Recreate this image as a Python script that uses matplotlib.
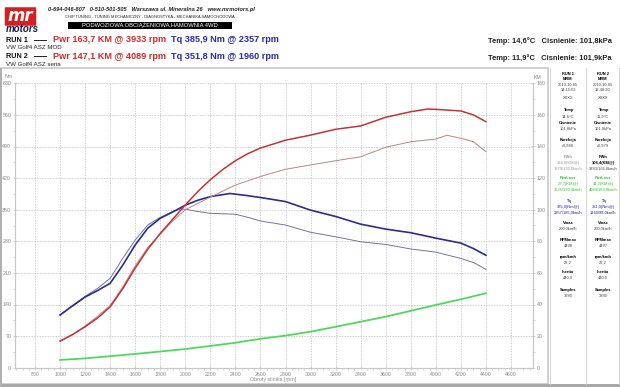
import matplotlib
matplotlib.use("Agg")
import matplotlib.pyplot as plt
from matplotlib.patches import Rectangle, FancyBboxPatch
from matplotlib.lines import Line2D
from matplotlib.ticker import MultipleLocator

plt.rcParams['font.family'] = ['Liberation Sans', 'DejaVu Sans']

# ---------------- data ----------------
rpm_tq1 = [1000, 1100, 1200, 1300, 1400, 1500, 1600, 1700, 1800, 1900, 2000, 2100, 2200, 2357,
           2500, 2600, 2800, 3000, 3200, 3400, 3600, 3800, 4000, 4200, 4300, 4400]
tq1 = [116.7, 137, 156.6, 171, 187, 227, 272, 309, 331, 345, 360, 371, 379, 385.9,
       381, 377, 368, 349, 335, 318, 307, 299, 287, 276, 264, 249]

rpm_tq2 = [1000, 1100, 1200, 1300, 1400, 1500, 1600, 1700, 1800, 1900, 1960, 2000, 2100, 2200,
           2400, 2500, 2600, 2800, 3000, 3200, 3400, 3600, 3800, 4000, 4200, 4300, 4400]
tq2 = [117, 138, 158, 176, 198, 242, 283, 316, 333, 346, 351.8, 351, 346, 342,
       340, 333, 325, 316, 300, 290, 279, 273, 263, 256, 242, 233, 218]

rpm_pw1 = [1000, 1100, 1200, 1300, 1400, 1500, 1600, 1700, 1800, 1900, 2000, 2100, 2200, 2300,
           2400, 2500, 2600, 2800, 3000, 3200, 3400, 3600, 3800, 3933, 4000, 4200, 4300, 4400]
pw1 = [16.9, 21, 25.9, 31.5, 38.5, 50, 63, 75, 85, 94, 103, 111.5, 119, 125.5,
       131, 135.5, 139, 144, 147.2, 150.9, 153, 158.5, 162, 163.7, 163.5, 162.5, 160, 155.7]

rpm_pw2 = [1000, 1100, 1200, 1300, 1400, 1500, 1600, 1700, 1800, 1900, 2000, 2100, 2200, 2400,
           2600, 2800, 3000, 3200, 3400, 3600, 3800, 4000, 4089, 4200, 4300, 4400]
pw2 = [16.5, 21, 26.5, 32.5, 39.5, 51, 64.5, 76, 84.5, 93, 100, 104, 108, 115.6,
       121, 125.6, 128.3, 131, 133.5, 139.5, 143, 144.7, 147.1, 145.2, 143, 136.7]

rpm_loss = [1000, 1200, 1600, 2000, 2400, 2600, 2800, 3000, 3200, 3400, 3600, 3800, 4000, 4200, 4400]
loss = [4.9, 5.9, 8.7, 11.8, 15.8, 18.3, 20.3, 22.8, 25.9, 29.1, 32.3, 36, 39.7, 43.3, 47.1]

x_ticks = list(range(800, 4601, 200))
nm_ticks = list(range(0, 631, 70))
km_ticks = list(range(0, 181, 20))

run_names = ["RUN 1", "RUN 2"]
run_desc = ["VW Golf4 ASZ MOD", "VW Golf4 ASZ seria"]
pwr_txt = ["Pwr 163,7 KM @ 3933 rpm", "Pwr 147,1 KM @ 4089 rpm"]
tq_txt = ["Tq 385,9 Nm @ 2357 rpm", "Tq 351,8 Nm @ 1960 rpm"]
env_txt = ["Temp: 14,6°C   Cisnienie: 101,8kPa", "Temp: 11,9°C   Cisnienie: 101,9kPa"]

info_col1 = [("RUN 1", 'k', True), ("MRM", 'k', True), ("2010-10-05", '#444', False), ("14:15:03", '#444', False),
             ("XXXX", '#444', False), ("Temp", 'k', True), ("14,6°C", '#444', False),
             ("Cisnienie", 'k', True), ("101,8kPa", '#444', False), ("Korekcja", 'k', True), ("x0,986", '#444', False),
             ("PWh", '#999', True), ("136,0(KM@)", '#999', False), ("3879/170,0km/h", '#999', False),
             ("PwrLoss", '#2ec02e', True), ("27,7(KM@)", '#2ec02e', False), ("3635/170,0km/h", '#2ec02e', False),
             ("Tq", '#2020a0', True), ("385,0(Nm@)", '#2020a0', False), ("2357/185,0km/h", '#2020a0', False),
             ("Vmax", 'k', True), ("200,0km/h", '#444', False), ("RPMmax", 'k', True), ("4498", '#444', False),
             ("rpm/kmh", 'k', True), ("22,2", '#444', False), ("Inertia", 'k', True), ("440,0", '#444', False),
             ("Samples", 'k', True), ("3880", '#444', False)]
info_col2 = [("RUN 2", 'k', True), ("MRM", 'k', True), ("2010-10-05", '#444', False), ("13:48:20", '#444', False),
             ("XXXX", '#444', False), ("Temp", 'k', True), ("11,9°C", '#444', False),
             ("Cisnienie", 'k', True), ("101,9kPa", '#444', False), ("Korekcja", 'k', True), ("x0,979", '#444', False),
             ("PWh", 'k', True), ("108,4(KM@)", 'k', True), ("3883/165,0km/h", '#444', False),
             ("PwrLoss", '#2ec02e', True), ("41,2(KM@)", '#2ec02e', False), ("4089/183,0km/h", '#2ec02e', False),
             ("Tq", '#2020a0', True), ("351,0(Nm@)", '#2020a0', False), ("1960/98,0km/h", '#2020a0', False),
             ("Vmax", 'k', True), ("200,0km/h", '#444', False), ("RPMmax", 'k', True), ("4497", '#444', False),
             ("rpm/kmh", 'k', True), ("22,2", '#444', False), ("Inertia", 'k', True), ("440,0", '#444', False),
             ("Samples", 'k', True), ("3880", '#444', False)]

# ---------------- figure ----------------
W, H = 620, 387
fig = plt.figure(figsize=(6.2, 3.87), dpi=100)
fig.patch.set_facecolor('white')


def fx(px):
    return px / W


def fy(py):
    return 1 - py / H


def T(px, py, s, **kw):
    fig.text(fx(px), fy(py), s, **kw)


# outer frames
fig.patches.append(Rectangle((fx(1), fy(384)), fx(547), 316 / H, transform=fig.transFigure,
                             fill=False, ec='#c8c8c8', lw=1.2))
fig.patches.append(Rectangle((0, 0), 1, 3.5 / H, transform=fig.transFigure, fc='#a8a8a8', ec='none'))
fig.patches.append(Rectangle((0, 0), 2 / W, 1 - 68 / H, transform=fig.transFigure, fc='#b0b0b0', ec='none'))
for xx in (550, 586, 619):
    fig.lines.append(Line2D([fx(xx), fx(xx)], [fy(384), fy(68)], transform=fig.transFigure,
                            color='#d8d8d8', lw=0.8))

# logo
fig.patches.append(FancyBboxPatch((fx(6), fy(25)), 29 / W, 17 / H, boxstyle="round,pad=0.002",
                                  transform=fig.transFigure, fc='#d42020', ec='none'))
T(20.5, 16, "mr", color='white', fontsize=12, fontweight='bold', style='italic', ha='center', va='center',
  family=['DejaVu Sans'])
T(22, 29.5, "motors", color='#1a1a40', fontsize=7, fontweight='bold', style='italic', ha='center', va='center')

# header lines
T(151, 10, "0-694-046-807   0-510-501-505   Warszawa ul. Mineralna 26   www.mrmotors.pl",
  fontsize=4.1, fontweight='bold', style='italic', ha='center', va='center', color='#222')
T(150, 17.5, "CHIP TUNING - TUNING MECHANICZNY - DIAGNOSTYKA - MECHANIKA SAMOCHODOWA",
  fontsize=2.9, ha='center', va='center', color='#222')
fig.patches.append(Rectangle((fx(68), fy(29)), 164 / W, 7 / H, transform=fig.transFigure, fc='black', ec='none'))
T(150, 25.5, "PODWOZIOWA OBCIĄŻENIOWA HAMOWNIA 4WD", fontsize=4.2, ha='center', va='center', color='white')

# run lines
for i, y0 in enumerate((40, 56.5)):
    T(6, y0, run_names[i], fontsize=5.2, fontweight='bold', ha='left', va='center', color='#111')
    fig.lines.append(Line2D([fx(34), fx(46)], [fy(y0 - 0.5), fy(y0 - 0.5)], transform=fig.transFigure,
                            color='#222', lw=0.7))
    T(53, y0, pwr_txt[i], fontsize=6.6, fontweight='bold', ha='left', va='center', color='#d42a2a')
    T(171, y0, tq_txt[i], fontsize=6.6, fontweight='bold', ha='left', va='center', color='#2a2ab0')
    T(6, y0 + 7.5, run_desc[i], fontsize=4.4, ha='left', va='center', color='#222')
    T(612, y0 + 1.5, env_txt[i], fontsize=5.4, fontweight='bold', ha='right', va='center', color='#222')

# info columns
info_y = [74, 79, 85, 90, 98, 110, 116.5, 123, 129, 140, 146, 157, 163, 169, 178, 184, 190,
          201.5, 207, 213, 223, 229, 240, 246, 257, 263, 272, 278, 290, 296]
for col, cx in ((info_col1, 568), (info_col2, 603)):
    for (s, c, b), y in zip(col, info_y):
        T(cx, y, s, fontsize=2.9, color=c, fontweight='bold' if b else 'normal', ha='center', va='center')

# ---------------- axes ----------------
ax = fig.add_axes([fx(15), fy(367.7), (533 - 15) / W, (367.7 - 83.3) / H])
ax.set_xlim(640, 4776)
ax.set_ylim(0, 630)
ax2 = ax.twinx()
ax2.set_ylim(0, 180)

ax.set_xticks(x_ticks)
ax.set_yticks(nm_ticks)
ax2.set_yticks(km_ticks)
ax.xaxis.set_minor_locator(MultipleLocator(50))
ax.yaxis.set_minor_locator(MultipleLocator(35))
ax2.yaxis.set_minor_locator(MultipleLocator(10))

ax.grid(True, which='major', color='#c4c4c4', lw=0.55, linestyle=(0, (2, 1.5)))
for a in (ax, ax2):
    for sp in a.spines.values():
        sp.set_color('#c8c8c8')
        sp.set_linewidth(0.8)
    a.spines['top'].set_visible(False)
    a.tick_params(which='both', colors='#c0c0c0', labelcolor='#8a8a8a', labelsize=3.8, length=2.5, width=0.5,
                  pad=1.5)
    a.tick_params(which='minor', length=1.5)
ax.tick_params(axis='y', direction='inout')
ax2.tick_params(axis='y', direction='inout')
ax.tick_params(axis='x', direction='inout')

ax2.plot(rpm_loss, loss, color='#4fd860', lw=1.3, zorder=2)
ax2.plot(rpm_pw2, pw2, color='#b98585', lw=0.7, zorder=3)
ax.plot(rpm_tq2, tq2, color='#7272a4', lw=0.7, zorder=3)
ax2.plot(rpm_pw1, pw1, color='#c23434', lw=1.1, zorder=4)
ax.plot(rpm_tq1, tq1, color='#2c2c8c', lw=1.2, zorder=4)

T(9, 77, "Nm", fontsize=3.8, color='#8a8a8a', ha='center', va='center')
T(538, 77.5, "KM", fontsize=3.8, color='#8a8a8a', ha='center', va='center')
T(273, 380, "Obroty silnika [rpm]", fontsize=3.8, color='#8a8a8a', ha='center', va='center')

fig.savefig("out.png", dpi=100)
